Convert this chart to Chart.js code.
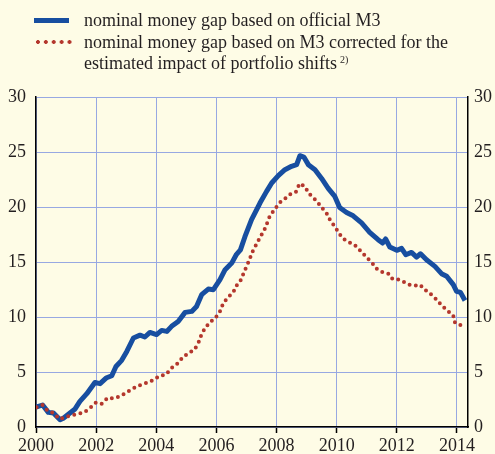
<!DOCTYPE html>
<html>
<head>
<meta charset="utf-8">
<script src="https://cdn.jsdelivr.net/npm/chart.js@4.4.1/dist/chart.umd.min.js"></script>
<style>
  body { margin: 0; background: #fefce6; }
  #wrap { position: relative; width: 495px; height: 454px; }
  canvas { position: absolute; left: 0; top: 0; }
  .lg { position: absolute; left: 84px; font: 18px "Liberation Serif", "Times New Roman", serif; line-height: 21px; color: #231f20; white-space: nowrap; }
  .lg sup { font-size: 10px; vertical-align: 6px; line-height: 0; margin-left: 3px; }
  #sampleBlue { position: absolute; left: 34px; top: 18px; width: 35px; height: 5px; background: #174ea0; }
  #sampleRed { position: absolute; left: 34px; top: 40px; width: 38px; height: 4px;
    background: radial-gradient(circle, #b4372d 1.7px, transparent 2.2px) 0 0 / 7.9px 4px repeat-x; }
</style>
</head>
<body>
<div id="wrap">
  <canvas id="myChart" width="495" height="454"></canvas>
  <div id="sampleBlue"></div>
  <div class="lg" style="top:10px">nominal money gap based on official M3</div>
  <div id="sampleRed"></div>
  <div class="lg" style="top:32px">nominal money gap based on M3 corrected for the<br>estimated impact of portfolio shifts<sup>2)</sup></div>
</div>
<script>
(() => {
    "use strict";

    // official M3 gap (years, percent)
    const blueYears = [
        2000.0, 2000.22, 2000.41, 2000.58, 2000.8, 2000.91, 2001.13, 2001.3, 2001.46, 2001.69,
        2001.96, 2002.13, 2002.33, 2002.52, 2002.66, 2002.85, 2003.02, 2003.24, 2003.46, 2003.62,
        2003.79, 2004.01, 2004.18, 2004.35, 2004.51, 2004.73, 2004.96, 2005.18, 2005.34, 2005.51,
        2005.73, 2005.9, 2006.12, 2006.29, 2006.51, 2006.67, 2006.8, 2006.95, 2007.17, 2007.45,
        2007.67, 2007.84, 2008.06, 2008.28, 2008.5, 2008.67, 2008.78, 2008.91, 2009.06, 2009.28,
        2009.5, 2009.72, 2009.94, 2010.1, 2010.33, 2010.55, 2010.83, 2011.1, 2011.38, 2011.53,
        2011.63, 2011.77, 2012.0, 2012.16, 2012.3, 2012.49, 2012.66, 2012.79, 2012.99, 2013.27,
        2013.49, 2013.66, 2013.88, 2013.99, 2014.12, 2014.27
    ];
    const blueValues = [
        1.8, 2.0, 1.33, 1.27, 0.66, 0.8, 1.27, 1.64, 2.33, 3.03,
        4.05, 3.94, 4.45, 4.66, 5.5, 6.06, 6.87, 8.09, 8.35, 8.18,
        8.6, 8.4, 8.78, 8.69, 9.15, 9.6, 10.42, 10.51, 10.96, 12.03,
        12.54, 12.48, 13.39, 14.3, 14.9, 15.7, 16.1, 17.3, 18.85, 20.36,
        21.42, 22.18, 22.85, 23.39, 23.7, 23.85, 24.66, 24.54, 23.85, 23.39,
        22.6, 21.7, 20.96, 19.95, 19.5, 19.2, 18.55, 17.7, 17.03, 16.72,
        17.09, 16.36, 16.06, 16.24, 15.66, 15.87, 15.45, 15.75, 15.2, 14.6,
        13.94, 13.7, 12.94, 12.33, 12.24, 11.5
    ];

    // corrected M3 gap
    const redYears = [
        2000.02, 2000.22, 2000.38, 2000.58, 2000.78, 2000.98, 2001.17, 2001.38, 2001.6, 2001.8,
        2002.0, 2002.19, 2002.39, 2002.59, 2002.79, 2002.99, 2003.19, 2003.37, 2003.57, 2003.75,
        2003.95, 2004.12, 2004.32, 2004.51, 2004.7, 2004.88, 2005.07, 2005.27, 2005.4, 2005.49,
        2005.62, 2005.79, 2005.99, 2006.12, 2006.23, 2006.4, 2006.56, 2006.67, 2006.82, 2006.92,
        2007.03, 2007.13, 2007.22, 2007.34, 2007.47, 2007.59, 2007.69, 2007.78, 2007.95, 2008.09,
        2008.28, 2008.48, 2008.67, 2008.76, 2008.95, 2009.06, 2009.22, 2009.37, 2009.53, 2009.69,
        2009.8, 2009.94, 2010.08, 2010.24, 2010.47, 2010.66, 2010.83, 2011.02, 2011.2, 2011.36,
        2011.55, 2011.72, 2011.86, 2012.08, 2012.24, 2012.4, 2012.6, 2012.77, 2012.94, 2013.14,
        2013.33, 2013.49, 2013.68, 2013.88, 2013.94, 2014.16
    ];
    const redValues = [
        1.8, 2.0, 1.5, 1.27, 0.73, 0.9, 1.06, 1.18, 1.33, 1.73,
        2.24, 2.12, 2.66, 2.6, 2.78, 3.09, 3.45, 3.69, 3.94, 4.05,
        4.36, 4.66, 4.75, 5.36, 5.75, 6.33, 6.72, 7.03, 7.63, 8.3,
        9.0, 9.51, 10.0, 10.51, 11.27, 11.82, 12.24, 12.85, 13.39, 14.09,
        14.75, 15.43, 16.05, 16.65, 17.33, 17.88, 18.55, 19.2, 19.82, 20.36,
        20.75, 21.2, 21.42, 22.12, 21.87, 21.27, 20.87, 20.42, 19.87, 19.33,
        18.7, 18.24, 17.6, 17.09, 16.72, 16.42, 15.9, 15.36, 14.85, 14.3,
        14.06, 13.94, 13.45, 13.39, 13.18, 12.94, 12.85, 12.94, 12.48, 12.06,
        11.57, 11.06, 10.6, 10.12, 9.45, 9.24
    ];

    const xTicks = [2000, 2002, 2004, 2006, 2008, 2010, 2012, 2014];
    const yTicks = [0, 5, 10, 15, 20, 25, 30];

    const font = { family: "'Liberation Serif', 'Times New Roman', serif", size: 18 };
    const gridBlue = "#98a8e2";
    const pairs = (xs, ys) => xs.map((x, i) => ({ x: x, y: ys[i] }));
    const setTicks = list => scale => { scale.ticks = list.map(v => ({ value: v })); };

    const ctx = document.getElementById("myChart").getContext("2d");
    // eslint-disable-next-line no-unused-vars
    const myChart = new Chart(ctx, {
        type: "line",
        data: {
            datasets: [{
                label: "nominal money gap based on M3 corrected for the estimated impact of portfolio shifts",
                data: pairs(redYears, redValues),
                borderColor: "#b4372d",
                borderWidth: 4,
                borderDash: [0, 6.3],
                borderCapStyle: "round",
                pointRadius: 0,
                tension: 0,
                order: 0
            }, {
                label: "nominal money gap based on official M3",
                data: pairs(blueYears, blueValues),
                borderColor: "#174ea0",
                borderWidth: 5,
                borderJoinStyle: "round",
                pointRadius: 0,
                tension: 0,
                order: 1
            }]
        },
        options: {
            responsive: false,
            animation: false,
            devicePixelRatio: 1,
            layout: { padding: { top: 97, left: 0, right: 0, bottom: 0 } },
            plugins: { legend: { display: false }, tooltip: { enabled: false } },
            scales: {
                x: {
                    type: "linear",
                    min: 2000,
                    max: 2014.37,
                    afterBuildTicks: setTicks(xTicks),
                    afterFit: s => { s.height = 27; },
                    grid: { color: gridBlue, lineWidth: 1, tickColor: "#000", tickLength: 6, tickWidth: 1.5 },
                    border: { color: "#000", width: 1.5 },
                    ticks: { font: font, color: "#231f20", padding: 2, maxRotation: 0, callback: v => String(v) }
                },
                y: {
                    position: "left",
                    min: 0,
                    max: 30,
                    afterBuildTicks: setTicks(yTicks),
                    afterFit: s => { s.width = 36; },
                    grid: { color: gridBlue, lineWidth: 1, drawTicks: false },
                    border: { color: "#000", width: 1.5 },
                    ticks: { font: font, color: "#231f20", padding: 10 }
                },
                y2: {
                    position: "right",
                    min: 0,
                    max: 30,
                    afterBuildTicks: setTicks(yTicks),
                    afterFit: s => { s.width = 27; },
                    grid: { drawOnChartArea: false, drawTicks: false },
                    border: { color: "#000", width: 1.5 },
                    ticks: { font: font, color: "#231f20", padding: 6 }
                }
            }
        }
    });
})();
</script>
</body>
</html>
